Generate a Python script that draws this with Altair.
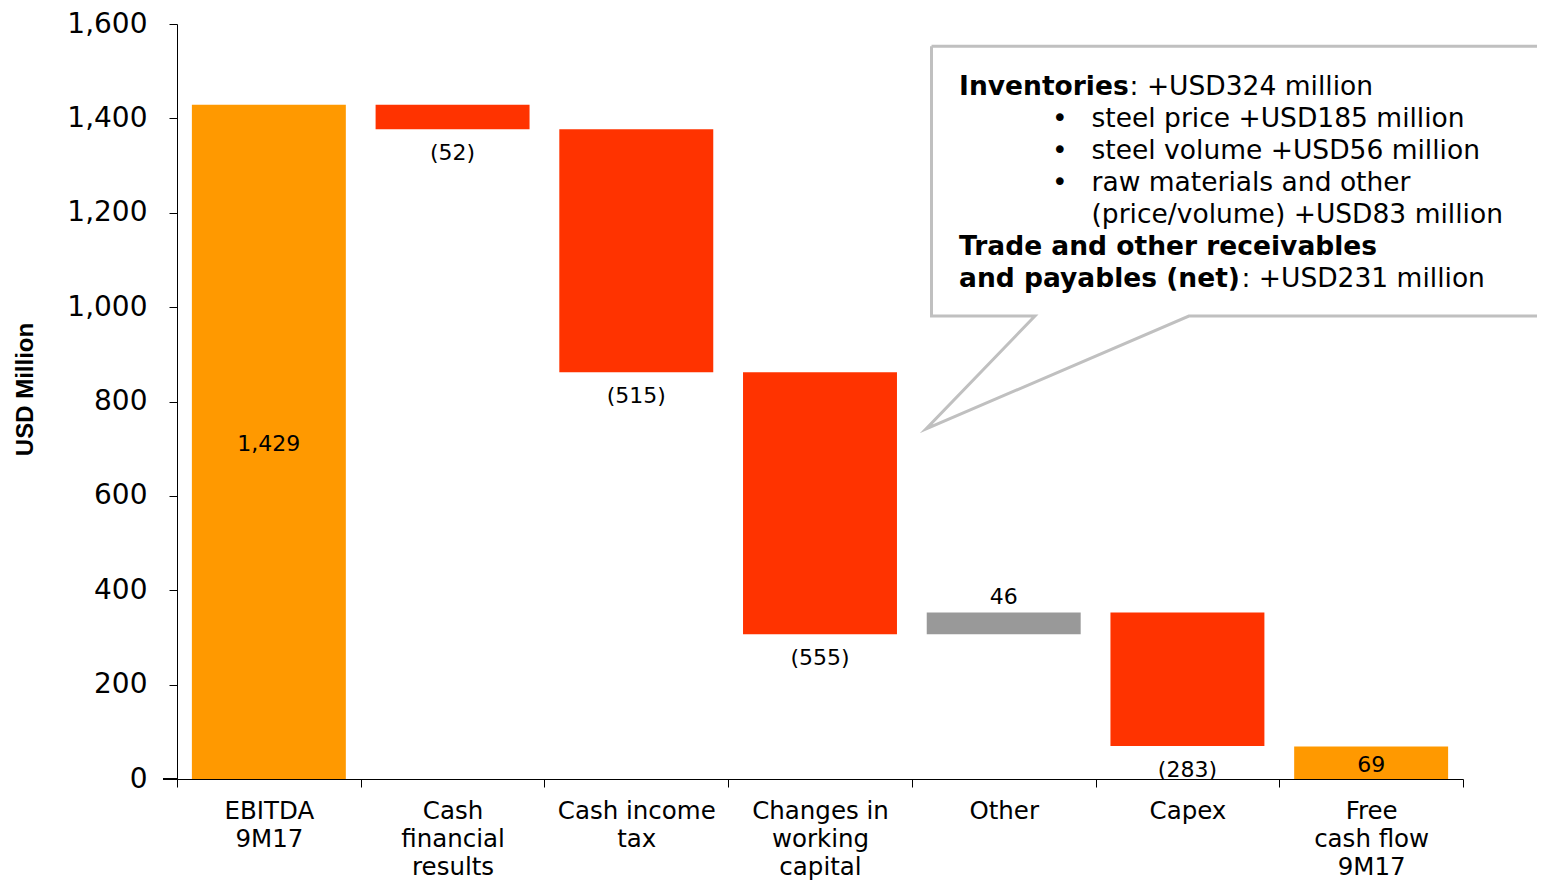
import altair as alt
import pandas as pd

# ---- data ----
categories = ["EBITDA|9M17", "Cash|financial|results", "Cash income|tax",
              "Changes in|working|capital", "Other", "Capex", "Free|cash flow|9M17"]
kinds = ["total", "delta", "delta", "delta", "delta", "delta", "total"]
values = [1429, -52, -515, -555, 46, -283, 69]
value_labels = ["1,429", "(52)", "(515)", "(555)", "46", "(283)", "69"]
y_ticks = [0, 200, 400, 600, 800, 1000, 1200, 1400, 1600]

# callout annotation (x in category units, y in USD million)
callout_x = [4.107, 7.6, 7.6, 5.508, 4.077, 4.670, 4.107, 4.107]
callout_y = [1553, 1553, 981, 981, 742, 981, 981, 1553]
bold_text = ["Inventories", "Trade and other receivables", "and payables (net)"]
bold_x = [4.257, 4.257, 4.257]
bold_y = [1466, 1128, 1060]
normal_text = [": +USD324 million", "steel price +USD185 million", "steel volume +USD56 million",
               "raw materials and other", "(price/volume) +USD83 million", ": +USD231 million"]
normal_x = [5.185, 4.978, 4.978, 4.978, 4.978, 5.794]
normal_y = [1466, 1398, 1331, 1263, 1195, 1060]
bullet_x = [4.806, 4.806, 4.806]
bullet_y = [1398, 1331, 1263]

# ---- waterfall table ----
rows = []
running = 0
for cat, kind, v, lab in zip(categories, kinds, values, value_labels):
    if kind == "total":
        lo, hi, cls = 0, v, "total"
        running = v
    else:
        start, end = running, running + v
        running = end
        lo, hi = min(start, end), max(start, end)
        cls = "neg" if v < 0 else "pos"
    rows.append(dict(cat=cat, lo=lo, hi=hi, mid=(lo + hi) / 2, cls=cls, label=lab))
df = pd.DataFrame(rows)

W, H = 1286, 755
yscale = alt.Scale(domain=[0, 1600], nice=False)
font = "DejaVu Sans"

xenc = alt.X("cat:N", sort=categories,
             scale=alt.Scale(paddingInner=0, paddingOuter=0),
             axis=alt.Axis(title=None, labelAngle=0, labelExpr="split(datum.label, '|')",
                           labelFont=font, labelFontSize=24.5, labelColor="black",
                           labelPadding=12, labelLineHeight=28, labelBaseline="top",
                           labelOverlap=False, tickBand="extent", tickSize=8,
                           tickColor="black", domainColor="black"))

base = alt.Chart(df)
bars = base.mark_bar(width=alt.RelativeBandSize(0.838)).encode(
    x=xenc,
    y=alt.Y("lo:Q", scale=yscale,
            axis=alt.Axis(values=y_ticks, format=",.0f", grid=False, title="USD Million",
                          titleFont="Liberation Sans", titleFontSize=24, titleFontWeight="bold",
                          titleColor="black", titleAngle=270, titleAlign="center",
                          titleBaseline="middle", titleX=-152, titleY=365,
                          labelFont=font, labelFontSize=28, labelColor="black",
                          labelPadding=22, tickSize=8, tickColor="black", domainColor="black")),
    y2="hi:Q",
    color=alt.Color("cls:N", scale=alt.Scale(domain=["total", "neg", "pos"],
                                             range=["#FF9900", "#FF3300", "#999999"]),
                    legend=None),
)
lbl_total = base.transform_filter(alt.datum.cls == "total").mark_text(
    font=font, fontSize=22, color="black", baseline="middle", dy=2).encode(
    x=alt.X("cat:N", sort=categories), y=alt.Y("mid:Q", scale=yscale), text="label:N")
lbl_neg = base.transform_filter(alt.datum.cls == "neg").mark_text(
    font=font, fontSize=22, color="black", baseline="middle", dy=24).encode(
    x=alt.X("cat:N", sort=categories), y=alt.Y("lo:Q", scale=yscale), text="label:N")
lbl_pos = base.transform_filter(alt.datum.cls == "pos").mark_text(
    font=font, fontSize=22, color="black", baseline="middle", dy=-15).encode(
    x=alt.X("cat:N", sort=categories), y=alt.Y("hi:Q", scale=yscale), text="label:N")
axis_ext = alt.Chart(df).mark_rule(color="black", strokeWidth=1).encode(
    x=alt.value(-14), x2=alt.value(0), y=alt.value(H))

main = alt.layer(bars, lbl_total, lbl_neg, lbl_pos, axis_ext)

# ---- callout ----
cx = alt.Scale(domain=[0, 7], nice=False, zero=False)
co_df = pd.DataFrame({"x": callout_x, "y": callout_y, "o": list(range(len(callout_x)))})
co_line = alt.Chart(co_df).mark_line(color="#C0C0C0", strokeWidth=3, strokeJoin="miter",
                                     strokeMiterLimit=20).encode(
    x=alt.X("x:Q", scale=cx, axis=None),
    y=alt.Y("y:Q", scale=yscale, axis=None),
    order="o:Q")
bdf = pd.DataFrame({"x": bold_x, "y": bold_y, "t": bold_text})
ndf = pd.DataFrame({"x": normal_x, "y": normal_y, "t": normal_text})
udf = pd.DataFrame({"x": bullet_x, "y": bullet_y, "t": ["•"] * len(bullet_x)})
co_bold = alt.Chart(bdf).mark_text(font=font, fontSize=26.5, fontWeight="bold", color="black",
                                   align="left", baseline="middle").encode(
    x=alt.X("x:Q", scale=cx, axis=None), y=alt.Y("y:Q", scale=yscale, axis=None), text="t:N")
co_norm = alt.Chart(ndf).mark_text(font=font, fontSize=26.5, color="black",
                                   align="left", baseline="middle").encode(
    x=alt.X("x:Q", scale=cx, axis=None), y=alt.Y("y:Q", scale=yscale, axis=None), text="t:N")
co_bul = alt.Chart(udf).mark_text(font=font, fontSize=26.5, color="black",
                                  align="center", baseline="middle").encode(
    x=alt.X("x:Q", scale=cx, axis=None), y=alt.Y("y:Q", scale=yscale, axis=None), text="t:N")
callout = alt.layer(co_line, co_bold, co_norm, co_bul)

chart = alt.layer(main, callout).resolve_scale(x="independent", y="independent").properties(
    width=W, height=H,
    padding={"left": 169, "top": 16, "right": 74, "bottom": 101},
    autosize=alt.AutoSizeParams(type="none"),
).configure_view(stroke=None)

chart.save("out.html", embed_options={"renderer": "svg", "actions": False})
